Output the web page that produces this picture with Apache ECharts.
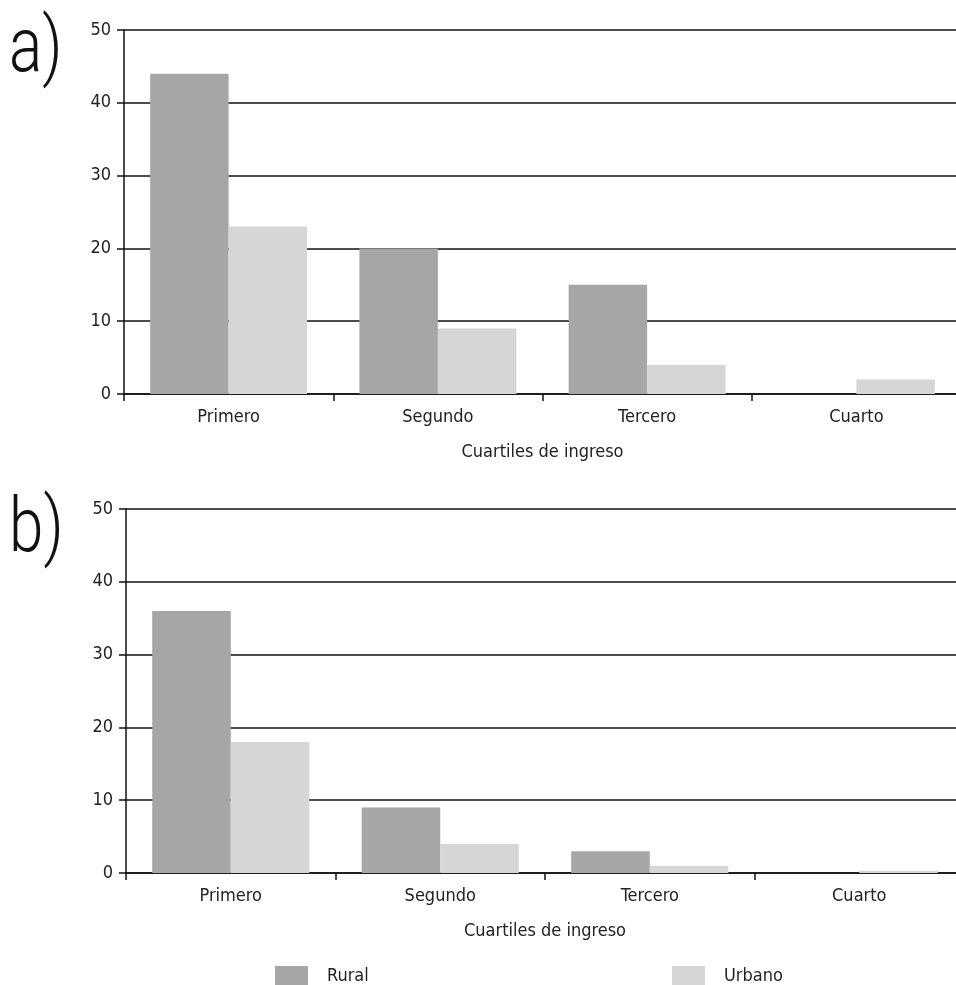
<!DOCTYPE html>
<html>
<head>
<meta charset="utf-8">
<script src="https://cdn.jsdelivr.net/npm/echarts@6/dist/echarts.min.js"></script>
<style>
  html, body { margin: 0; padding: 0; background: #fff; }
  #chart { width: 956px; height: 985px; }
</style>
</head>
<body>
<div id="chart"></div>
<script>
// Income quartiles shared by both panels
const categories = ['Primero', 'Segundo', 'Tercero', 'Cuarto'];
const yTicks = [0, 10, 20, 30, 40, 50];

// Panel a)
const ruralA = [44, 20, 15, 0];
const urbanoA = [23, 9, 4, 2];

// Panel b)
const ruralB = [36, 9, 3, 0];
const urbanoB = [18, 4, 1, 0.3];

const seriesNames = ['Rural', 'Urbano'];
const axisTitle = 'Cuartiles de ingreso';
const panelLabels = ['a)', 'b)'];

const FONT = '"Liberation Sans Narrow", "DejaVu Sans Condensed", sans-serif';
const TEXT = '#222';
const RURAL = '#a6a6a6';
const URBANO = '#d6d6d6';

const chart = echarts.init(document.getElementById('chart'), null, { renderer: 'canvas' });

function xAxisFor(gridIndex) {
  return {
    type: 'category',
    gridIndex,
    data: categories,
    name: axisTitle,
    nameLocation: 'middle',
    nameGap: 49,
    nameTextStyle: { fontFamily: FONT, fontSize: 18, color: TEXT },
    axisLine: { show: true, lineStyle: { color: '#111', width: 1.5 } },
    axisTick: { show: true, length: 7, lineStyle: { color: '#111', width: 1.5 } },
    axisLabel: { fontFamily: FONT, fontSize: 18, color: TEXT, margin: 14 },
    splitLine: { show: false }
  };
}

function yAxisFor(gridIndex) {
  return {
    type: 'value',
    gridIndex,
    min: yTicks[0],
    max: yTicks[yTicks.length - 1],
    interval: 10,
    axisLine: { show: true, lineStyle: { color: '#111', width: 1.5 } },
    axisTick: { show: true, length: 7, lineStyle: { color: '#111', width: 1.5 } },
    axisLabel: { fontFamily: FONT, fontSize: 18, color: TEXT, margin: 13 },
    splitLine: { show: true, lineStyle: { color: '#111', width: 1.5 } }
  };
}

function barSeries(name, data, color, idx) {
  return {
    name,
    type: 'bar',
    xAxisIndex: idx,
    yAxisIndex: idx,
    data,
    barCategoryGap: '25%',
    barGap: '0%',
    itemStyle: { color },
    emphasis: { disabled: true },
    animation: false
  };
}

// Large light panel letters, stretched vertically
function panelLetter(text, top) {
  return {
    type: 'text',
    left: 9,
    top,
    scaleY: 1.22,
    style: {
      text,
      font: '300 62px Roboto, "DejaVu Sans", sans-serif',
      fill: '#111'
    }
  };
}

chart.setOption({
  animation: false,
  graphic: [panelLetter(panelLabels[0], 14), panelLetter(panelLabels[1], 494)],
  grid: [
    { left: 124, top: 30, height: 364, width: 837, outerBoundsMode: 'none' },
    { left: 126, top: 509, height: 364, width: 838, outerBoundsMode: 'none' }
  ],
  xAxis: [xAxisFor(0), xAxisFor(1)],
  yAxis: [yAxisFor(0), yAxisFor(1)],
  legend: [
    { data: [seriesNames[0]], left: 270, top: 961, icon: 'rect', itemWidth: 33, itemHeight: 21,
      selectedMode: false,
      textStyle: { fontFamily: FONT, fontSize: 18, color: TEXT, padding: [0, 0, 0, 14] } },
    { data: [seriesNames[1]], left: 667, top: 961, icon: 'rect', itemWidth: 33, itemHeight: 21,
      selectedMode: false,
      textStyle: { fontFamily: FONT, fontSize: 18, color: TEXT, padding: [0, 0, 0, 14] } }
  ],
  series: [
    barSeries(seriesNames[0], ruralA, RURAL, 0),
    barSeries(seriesNames[1], urbanoA, URBANO, 0),
    barSeries(seriesNames[0], ruralB, RURAL, 1),
    barSeries(seriesNames[1], urbanoB, URBANO, 1)
  ]
});
</script>
</body>
</html>
